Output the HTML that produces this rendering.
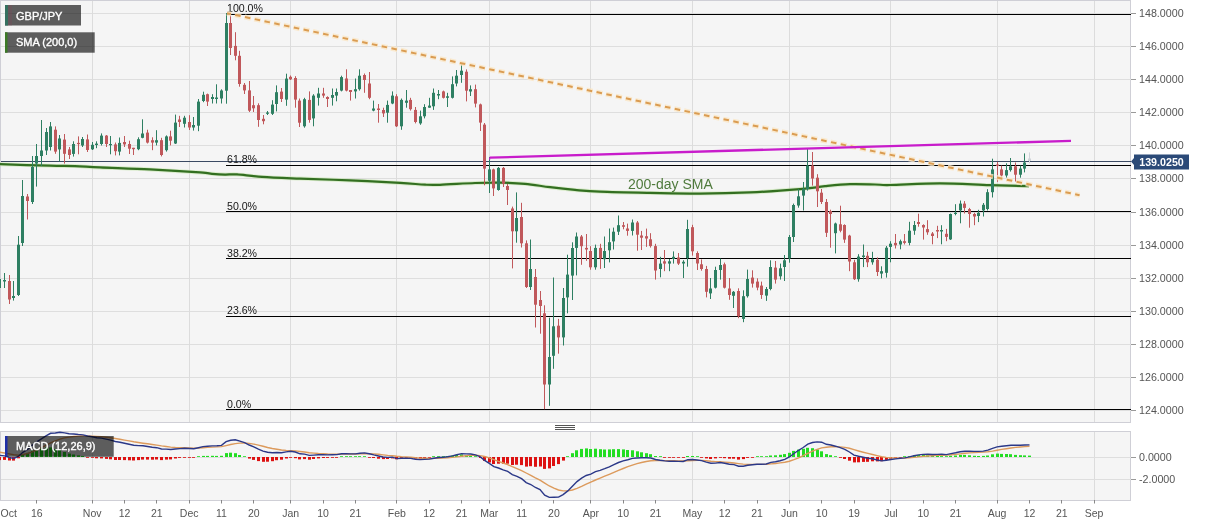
<!DOCTYPE html>
<html><head><meta charset="utf-8"><title>GBP/JPY</title><style>html,body{margin:0;padding:0;background:#fff;width:1207px;height:526px;overflow:hidden}
svg text{font-family:"Liberation Sans",Arial,sans-serif}
.ax{font-size:10.7px;fill:#555}
.xl{font-size:10.5px;fill:#555}
.fib{font-size:10.6px;fill:#151515}
.smal{font-size:14px;fill:#4f7a3c}
.tag{font-size:10.7px;font-weight:bold;fill:#fff}
.lg{font-size:11px;fill:#fff;stroke:#fff;stroke-width:0.35px}
</style></head>
<body>
<svg width="1207" height="526" viewBox="0 0 1207 526" style="display:block"><rect x="0" y="0" width="1207" height="526" fill="#ffffff"/><rect x="0.5" y="0.5" width="1130" height="422" fill="#f5f5f5" stroke="#cfcfd6" stroke-width="1"/><rect x="0.5" y="431.5" width="1130" height="69" fill="#f5f5f5" stroke="#cfcfd6" stroke-width="1"/><line x1="1" y1="410.5" x2="1131" y2="410.5" stroke="#dedede" stroke-width="1"/><line x1="1" y1="377.5" x2="1131" y2="377.5" stroke="#dedede" stroke-width="1"/><line x1="1" y1="344.5" x2="1131" y2="344.5" stroke="#dedede" stroke-width="1"/><line x1="1" y1="311.5" x2="1131" y2="311.5" stroke="#dedede" stroke-width="1"/><line x1="1" y1="278.5" x2="1131" y2="278.5" stroke="#dedede" stroke-width="1"/><line x1="1" y1="245.5" x2="1131" y2="245.5" stroke="#dedede" stroke-width="1"/><line x1="1" y1="212.5" x2="1131" y2="212.5" stroke="#dedede" stroke-width="1"/><line x1="1" y1="178.5" x2="1131" y2="178.5" stroke="#dedede" stroke-width="1"/><line x1="1" y1="145.5" x2="1131" y2="145.5" stroke="#dedede" stroke-width="1"/><line x1="1" y1="112.5" x2="1131" y2="112.5" stroke="#dedede" stroke-width="1"/><line x1="1" y1="79.5" x2="1131" y2="79.5" stroke="#dedede" stroke-width="1"/><line x1="1" y1="46.5" x2="1131" y2="46.5" stroke="#dedede" stroke-width="1"/><line x1="1" y1="13.5" x2="1131" y2="13.5" stroke="#dedede" stroke-width="1"/><line x1="92.5" y1="1" x2="92.5" y2="422" stroke="#dcdcdc" stroke-width="1"/><line x1="92.5" y1="432" x2="92.5" y2="500" stroke="#dcdcdc" stroke-width="1"/><line x1="189.5" y1="1" x2="189.5" y2="422" stroke="#dcdcdc" stroke-width="1"/><line x1="189.5" y1="432" x2="189.5" y2="500" stroke="#dcdcdc" stroke-width="1"/><line x1="290.5" y1="1" x2="290.5" y2="422" stroke="#dcdcdc" stroke-width="1"/><line x1="290.5" y1="432" x2="290.5" y2="500" stroke="#dcdcdc" stroke-width="1"/><line x1="396.5" y1="1" x2="396.5" y2="422" stroke="#dcdcdc" stroke-width="1"/><line x1="396.5" y1="432" x2="396.5" y2="500" stroke="#dcdcdc" stroke-width="1"/><line x1="489.5" y1="1" x2="489.5" y2="422" stroke="#dcdcdc" stroke-width="1"/><line x1="489.5" y1="432" x2="489.5" y2="500" stroke="#dcdcdc" stroke-width="1"/><line x1="590.5" y1="1" x2="590.5" y2="422" stroke="#dcdcdc" stroke-width="1"/><line x1="590.5" y1="432" x2="590.5" y2="500" stroke="#dcdcdc" stroke-width="1"/><line x1="692.5" y1="1" x2="692.5" y2="422" stroke="#dcdcdc" stroke-width="1"/><line x1="692.5" y1="432" x2="692.5" y2="500" stroke="#dcdcdc" stroke-width="1"/><line x1="789.5" y1="1" x2="789.5" y2="422" stroke="#dcdcdc" stroke-width="1"/><line x1="789.5" y1="432" x2="789.5" y2="500" stroke="#dcdcdc" stroke-width="1"/><line x1="890.5" y1="1" x2="890.5" y2="422" stroke="#dcdcdc" stroke-width="1"/><line x1="890.5" y1="432" x2="890.5" y2="500" stroke="#dcdcdc" stroke-width="1"/><line x1="997.5" y1="1" x2="997.5" y2="422" stroke="#dcdcdc" stroke-width="1"/><line x1="997.5" y1="432" x2="997.5" y2="500" stroke="#dcdcdc" stroke-width="1"/><line x1="1094.5" y1="1" x2="1094.5" y2="422" stroke="#dcdcdc" stroke-width="1"/><line x1="1094.5" y1="432" x2="1094.5" y2="500" stroke="#dcdcdc" stroke-width="1"/><line x1="1" y1="457.5" x2="1131" y2="457.5" stroke="#dedede" stroke-width="1"/><line x1="1" y1="479.5" x2="1131" y2="479.5" stroke="#dedede" stroke-width="1"/><line x1="1131" y1="410.5" x2="1136" y2="410.5" stroke="#999" stroke-width="1"/><text x="1139" y="414.3" class="ax">124.0000</text><line x1="1131" y1="377.5" x2="1136" y2="377.5" stroke="#999" stroke-width="1"/><text x="1139" y="381.3" class="ax">126.0000</text><line x1="1131" y1="344.5" x2="1136" y2="344.5" stroke="#999" stroke-width="1"/><text x="1139" y="348.3" class="ax">128.0000</text><line x1="1131" y1="311.5" x2="1136" y2="311.5" stroke="#999" stroke-width="1"/><text x="1139" y="315.3" class="ax">130.0000</text><line x1="1131" y1="278.5" x2="1136" y2="278.5" stroke="#999" stroke-width="1"/><text x="1139" y="282.3" class="ax">132.0000</text><line x1="1131" y1="245.5" x2="1136" y2="245.5" stroke="#999" stroke-width="1"/><text x="1139" y="249.3" class="ax">134.0000</text><line x1="1131" y1="212.5" x2="1136" y2="212.5" stroke="#999" stroke-width="1"/><text x="1139" y="216.3" class="ax">136.0000</text><line x1="1131" y1="178.5" x2="1136" y2="178.5" stroke="#999" stroke-width="1"/><text x="1139" y="182.3" class="ax">138.0000</text><line x1="1131" y1="145.5" x2="1136" y2="145.5" stroke="#999" stroke-width="1"/><text x="1139" y="149.3" class="ax">140.0000</text><line x1="1131" y1="112.5" x2="1136" y2="112.5" stroke="#999" stroke-width="1"/><text x="1139" y="116.3" class="ax">142.0000</text><line x1="1131" y1="79.5" x2="1136" y2="79.5" stroke="#999" stroke-width="1"/><text x="1139" y="83.3" class="ax">144.0000</text><line x1="1131" y1="46.5" x2="1136" y2="46.5" stroke="#999" stroke-width="1"/><text x="1139" y="50.3" class="ax">146.0000</text><line x1="1131" y1="13.5" x2="1136" y2="13.5" stroke="#999" stroke-width="1"/><text x="1139" y="17.3" class="ax">148.0000</text><line x1="1131" y1="457.5" x2="1136" y2="457.5" stroke="#999" stroke-width="1"/><text x="1139" y="461.3" class="ax">0.0000</text><line x1="1131" y1="479.5" x2="1136" y2="479.5" stroke="#999" stroke-width="1"/><text x="1139" y="483.3" class="ax">-2.0000</text><text x="0.5" y="517" class="xl">Oct</text><line x1="36.5" y1="500" x2="36.5" y2="503.5" stroke="#888" stroke-width="1"/><text x="36.8" y="517" class="xl" text-anchor="middle">16</text><line x1="92.5" y1="500" x2="92.5" y2="503.5" stroke="#888" stroke-width="1"/><text x="92.2" y="517" class="xl" text-anchor="middle">Nov</text><line x1="124.5" y1="500" x2="124.5" y2="503.5" stroke="#888" stroke-width="1"/><text x="124.5" y="517" class="xl" text-anchor="middle">12</text><line x1="156.5" y1="500" x2="156.5" y2="503.5" stroke="#888" stroke-width="1"/><text x="156.8" y="517" class="xl" text-anchor="middle">21</text><line x1="189.5" y1="500" x2="189.5" y2="503.5" stroke="#888" stroke-width="1"/><text x="189.2" y="517" class="xl" text-anchor="middle">Dec</text><line x1="221.5" y1="500" x2="221.5" y2="503.5" stroke="#888" stroke-width="1"/><text x="221.5" y="517" class="xl" text-anchor="middle">11</text><line x1="253.5" y1="500" x2="253.5" y2="503.5" stroke="#888" stroke-width="1"/><text x="253.8" y="517" class="xl" text-anchor="middle">20</text><line x1="290.5" y1="500" x2="290.5" y2="503.5" stroke="#888" stroke-width="1"/><text x="290.7" y="517" class="xl" text-anchor="middle">Jan</text><line x1="323.5" y1="500" x2="323.5" y2="503.5" stroke="#888" stroke-width="1"/><text x="323.1" y="517" class="xl" text-anchor="middle">10</text><line x1="355.5" y1="500" x2="355.5" y2="503.5" stroke="#888" stroke-width="1"/><text x="355.4" y="517" class="xl" text-anchor="middle">21</text><line x1="396.5" y1="500" x2="396.5" y2="503.5" stroke="#888" stroke-width="1"/><text x="396.9" y="517" class="xl" text-anchor="middle">Feb</text><line x1="429.5" y1="500" x2="429.5" y2="503.5" stroke="#888" stroke-width="1"/><text x="429.2" y="517" class="xl" text-anchor="middle">12</text><line x1="461.5" y1="500" x2="461.5" y2="503.5" stroke="#888" stroke-width="1"/><text x="461.6" y="517" class="xl" text-anchor="middle">21</text><line x1="489.5" y1="500" x2="489.5" y2="503.5" stroke="#888" stroke-width="1"/><text x="489.3" y="517" class="xl" text-anchor="middle">Mar</text><line x1="521.5" y1="500" x2="521.5" y2="503.5" stroke="#888" stroke-width="1"/><text x="521.6" y="517" class="xl" text-anchor="middle">11</text><line x1="553.5" y1="500" x2="553.5" y2="503.5" stroke="#888" stroke-width="1"/><text x="553.9" y="517" class="xl" text-anchor="middle">20</text><line x1="590.5" y1="500" x2="590.5" y2="503.5" stroke="#888" stroke-width="1"/><text x="590.8" y="517" class="xl" text-anchor="middle">Apr</text><line x1="623.5" y1="500" x2="623.5" y2="503.5" stroke="#888" stroke-width="1"/><text x="623.2" y="517" class="xl" text-anchor="middle">10</text><line x1="655.5" y1="500" x2="655.5" y2="503.5" stroke="#888" stroke-width="1"/><text x="655.5" y="517" class="xl" text-anchor="middle">21</text><line x1="692.5" y1="500" x2="692.5" y2="503.5" stroke="#888" stroke-width="1"/><text x="692.4" y="517" class="xl" text-anchor="middle">May</text><line x1="724.5" y1="500" x2="724.5" y2="503.5" stroke="#888" stroke-width="1"/><text x="724.7" y="517" class="xl" text-anchor="middle">12</text><line x1="757.5" y1="500" x2="757.5" y2="503.5" stroke="#888" stroke-width="1"/><text x="757.0" y="517" class="xl" text-anchor="middle">21</text><line x1="789.5" y1="500" x2="789.5" y2="503.5" stroke="#888" stroke-width="1"/><text x="789.4" y="517" class="xl" text-anchor="middle">Jun</text><line x1="821.5" y1="500" x2="821.5" y2="503.5" stroke="#888" stroke-width="1"/><text x="821.7" y="517" class="xl" text-anchor="middle">10</text><line x1="854.5" y1="500" x2="854.5" y2="503.5" stroke="#888" stroke-width="1"/><text x="854.0" y="517" class="xl" text-anchor="middle">19</text><line x1="890.5" y1="500" x2="890.5" y2="503.5" stroke="#888" stroke-width="1"/><text x="890.9" y="517" class="xl" text-anchor="middle">Jul</text><line x1="923.5" y1="500" x2="923.5" y2="503.5" stroke="#888" stroke-width="1"/><text x="923.3" y="517" class="xl" text-anchor="middle">10</text><line x1="955.5" y1="500" x2="955.5" y2="503.5" stroke="#888" stroke-width="1"/><text x="955.6" y="517" class="xl" text-anchor="middle">21</text><line x1="997.5" y1="500" x2="997.5" y2="503.5" stroke="#888" stroke-width="1"/><text x="997.1" y="517" class="xl" text-anchor="middle">Aug</text><line x1="1029.5" y1="500" x2="1029.5" y2="503.5" stroke="#888" stroke-width="1"/><text x="1029.5" y="517" class="xl" text-anchor="middle">12</text><line x1="1061.5" y1="500" x2="1061.5" y2="503.5" stroke="#888" stroke-width="1"/><text x="1061.8" y="517" class="xl" text-anchor="middle">21</text><line x1="1094.5" y1="500" x2="1094.5" y2="503.5" stroke="#888" stroke-width="1"/><text x="1094.1" y="517" class="xl" text-anchor="middle">Sep</text><line x1="1" y1="161.5" x2="1131" y2="161.5" stroke="#3b4a63" stroke-width="1"/><line x1="226" y1="14.5" x2="1131" y2="14.5" stroke="#000" stroke-width="1"/><text x="227" y="11.9" class="fib">100.0%</text><line x1="226" y1="165.5" x2="1131" y2="165.5" stroke="#000" stroke-width="1"/><text x="227" y="162.5" class="fib">61.8%</text><line x1="226" y1="211.5" x2="1131" y2="211.5" stroke="#000" stroke-width="1"/><text x="227" y="209.6" class="fib">50.0%</text><line x1="226" y1="258.5" x2="1131" y2="258.5" stroke="#000" stroke-width="1"/><text x="227" y="256.7" class="fib">38.2%</text><line x1="226" y1="316.5" x2="1131" y2="316.5" stroke="#000" stroke-width="1"/><text x="227" y="313.8" class="fib">23.6%</text><line x1="226" y1="409.5" x2="1131" y2="409.5" stroke="#000" stroke-width="1"/><text x="227" y="407.5" class="fib">0.0%</text><path d="M0,164.2 C8.3,164.45 37.5,165.38 50,165.7 C62.5,166.02 66.7,165.82 75,166.1 C83.3,166.38 87.5,166.85 100,167.4 C112.5,167.95 133.3,168.57 150,169.4 C166.7,170.23 189.7,171.67 200,172.4 C210.3,173.13 207.8,173.43 212,173.8 C216.2,174.17 220.8,174.50 225,174.6 C229.2,174.70 230.8,174.02 237,174.4 C243.2,174.78 251.5,176.20 262,176.9 C272.5,177.60 285.3,178.02 300,178.6 C314.7,179.18 333.3,179.68 350,180.4 C366.7,181.12 387.5,182.18 400,182.9 C412.5,183.62 418.3,184.38 425,184.7 C431.7,185.02 431.7,185.08 440,184.8 C448.3,184.52 465.0,183.37 475,183.0 C485.0,182.63 491.7,182.47 500,182.6 C508.3,182.73 516.7,183.03 525,183.8 C533.3,184.57 541.7,186.18 550,187.2 C558.3,188.22 566.7,189.15 575,189.9 C583.3,190.65 587.5,191.20 600,191.7 C612.5,192.20 633.3,192.58 650,192.9 C666.7,193.22 683.3,193.68 700,193.6 C716.7,193.52 733.3,193.15 750,192.4 C766.7,191.65 787.5,190.13 800,189.1 C812.5,188.07 816.7,187.02 825,186.2 C833.3,185.38 841.7,184.48 850,184.2 C858.3,183.92 868.3,184.37 875,184.5 C881.7,184.63 879.2,185.18 890,185.0 C900.8,184.82 923.3,183.37 940,183.4 C956.7,183.43 975.2,184.75 990,185.2 C1004.8,185.65 1022.5,185.95 1029,186.1" fill="none" stroke="#c8e6b0" stroke-width="4" stroke-linejoin="round" opacity="0.6"/><path d="M0,164.2 C8.3,164.45 37.5,165.38 50,165.7 C62.5,166.02 66.7,165.82 75,166.1 C83.3,166.38 87.5,166.85 100,167.4 C112.5,167.95 133.3,168.57 150,169.4 C166.7,170.23 189.7,171.67 200,172.4 C210.3,173.13 207.8,173.43 212,173.8 C216.2,174.17 220.8,174.50 225,174.6 C229.2,174.70 230.8,174.02 237,174.4 C243.2,174.78 251.5,176.20 262,176.9 C272.5,177.60 285.3,178.02 300,178.6 C314.7,179.18 333.3,179.68 350,180.4 C366.7,181.12 387.5,182.18 400,182.9 C412.5,183.62 418.3,184.38 425,184.7 C431.7,185.02 431.7,185.08 440,184.8 C448.3,184.52 465.0,183.37 475,183.0 C485.0,182.63 491.7,182.47 500,182.6 C508.3,182.73 516.7,183.03 525,183.8 C533.3,184.57 541.7,186.18 550,187.2 C558.3,188.22 566.7,189.15 575,189.9 C583.3,190.65 587.5,191.20 600,191.7 C612.5,192.20 633.3,192.58 650,192.9 C666.7,193.22 683.3,193.68 700,193.6 C716.7,193.52 733.3,193.15 750,192.4 C766.7,191.65 787.5,190.13 800,189.1 C812.5,188.07 816.7,187.02 825,186.2 C833.3,185.38 841.7,184.48 850,184.2 C858.3,183.92 868.3,184.37 875,184.5 C881.7,184.63 879.2,185.18 890,185.0 C900.8,184.82 923.3,183.37 940,183.4 C956.7,183.43 975.2,184.75 990,185.2 C1004.8,185.65 1022.5,185.95 1029,186.1" fill="none" stroke="#336f21" stroke-width="2.2" stroke-linejoin="round"/><text x="628" y="188.6" class="smal">200-day SMA</text><line x1="-0.5" y1="276.0" x2="-0.5" y2="290.0" stroke="#2e7f62" stroke-width="1"/><rect x="-2.0" y="279.0" width="3" height="9.0" fill="#2e7f62"/><line x1="4.5" y1="273.0" x2="4.5" y2="288.0" stroke="#2e7f62" stroke-width="1"/><rect x="3.0" y="280.0" width="3" height="1.5" fill="#2e7f62"/><line x1="9.5" y1="275.0" x2="9.5" y2="304.0" stroke="#c0585b" stroke-width="1"/><rect x="8.0" y="281.0" width="3" height="18.5" fill="#c0585b"/><line x1="13.5" y1="281.0" x2="13.5" y2="300.6" stroke="#2e7f62" stroke-width="1"/><rect x="12.0" y="296.0" width="3" height="2.0" fill="#2e7f62"/><line x1="18.5" y1="236.0" x2="18.5" y2="296.0" stroke="#2e7f62" stroke-width="1"/><rect x="17.0" y="244.7" width="3" height="50.3" fill="#2e7f62"/><line x1="22.5" y1="180.0" x2="22.5" y2="246.0" stroke="#2e7f62" stroke-width="1"/><rect x="21.0" y="196.0" width="3" height="47.0" fill="#2e7f62"/><line x1="27.5" y1="194.0" x2="27.5" y2="219.5" stroke="#c0585b" stroke-width="1"/><rect x="26.0" y="196.5" width="3" height="4.5" fill="#c0585b"/><line x1="32.5" y1="156.0" x2="32.5" y2="204.0" stroke="#2e7f62" stroke-width="1"/><rect x="31.0" y="167.0" width="3" height="35.0" fill="#2e7f62"/><line x1="36.5" y1="144.0" x2="36.5" y2="186.6" stroke="#2e7f62" stroke-width="1"/><rect x="35.0" y="156.0" width="3" height="7.6" fill="#2e7f62"/><line x1="41.5" y1="120.0" x2="41.5" y2="166.0" stroke="#2e7f62" stroke-width="1"/><rect x="40.0" y="150.5" width="3" height="5.5" fill="#2e7f62"/><line x1="46.5" y1="128.0" x2="46.5" y2="155.0" stroke="#2e7f62" stroke-width="1"/><rect x="45.0" y="132.0" width="3" height="18.5" fill="#2e7f62"/><line x1="50.5" y1="122.0" x2="50.5" y2="150.5" stroke="#2e7f62" stroke-width="1"/><rect x="49.0" y="126.4" width="3" height="20.6" fill="#2e7f62"/><line x1="55.5" y1="126.4" x2="55.5" y2="153.8" stroke="#c0585b" stroke-width="1"/><rect x="54.0" y="129.7" width="3" height="21.9" fill="#c0585b"/><line x1="59.5" y1="135.0" x2="59.5" y2="161.5" stroke="#2e7f62" stroke-width="1"/><rect x="58.0" y="138.5" width="3" height="10.9" fill="#2e7f62"/><line x1="64.5" y1="134.0" x2="64.5" y2="163.6" stroke="#c0585b" stroke-width="1"/><rect x="63.0" y="139.6" width="3" height="14.2" fill="#c0585b"/><line x1="69.5" y1="147.0" x2="69.5" y2="159.0" stroke="#c0585b" stroke-width="1"/><rect x="68.0" y="149.4" width="3" height="5.6" fill="#c0585b"/><line x1="73.5" y1="141.3" x2="73.5" y2="156.6" stroke="#2e7f62" stroke-width="1"/><rect x="72.0" y="144.0" width="3" height="9.9" fill="#2e7f62"/><line x1="78.5" y1="136.4" x2="78.5" y2="154.3" stroke="#c0585b" stroke-width="1"/><rect x="77.0" y="142.9" width="3" height="1.2" fill="#c0585b"/><line x1="82.5" y1="137.0" x2="82.5" y2="147.0" stroke="#2e7f62" stroke-width="1"/><rect x="81.0" y="139.0" width="3" height="6.5" fill="#2e7f62"/><line x1="87.5" y1="134.5" x2="87.5" y2="152.0" stroke="#c0585b" stroke-width="1"/><rect x="86.0" y="139.4" width="3" height="10.6" fill="#c0585b"/><line x1="92.5" y1="142.0" x2="92.5" y2="150.0" stroke="#2e7f62" stroke-width="1"/><rect x="91.0" y="144.8" width="3" height="4.5" fill="#2e7f62"/><line x1="96.5" y1="141.3" x2="96.5" y2="148.2" stroke="#2e7f62" stroke-width="1"/><rect x="95.0" y="143.6" width="3" height="1.4" fill="#2e7f62"/><line x1="101.5" y1="133.4" x2="101.5" y2="145.5" stroke="#2e7f62" stroke-width="1"/><rect x="100.0" y="135.6" width="3" height="8.4" fill="#2e7f62"/><line x1="106.5" y1="135.0" x2="106.5" y2="147.0" stroke="#c0585b" stroke-width="1"/><rect x="105.0" y="135.6" width="3" height="8.4" fill="#c0585b"/><line x1="110.5" y1="136.0" x2="110.5" y2="154.3" stroke="#2e7f62" stroke-width="1"/><rect x="109.0" y="144.0" width="3" height="1.2" fill="#2e7f62"/><line x1="115.5" y1="142.5" x2="115.5" y2="155.4" stroke="#c0585b" stroke-width="1"/><rect x="114.0" y="144.4" width="3" height="6.8" fill="#c0585b"/><line x1="119.5" y1="137.5" x2="119.5" y2="155.4" stroke="#2e7f62" stroke-width="1"/><rect x="118.0" y="142.9" width="3" height="8.7" fill="#2e7f62"/><line x1="124.5" y1="136.0" x2="124.5" y2="147.0" stroke="#c0585b" stroke-width="1"/><rect x="123.0" y="142.0" width="3" height="2.4" fill="#c0585b"/><line x1="129.5" y1="140.7" x2="129.5" y2="154.0" stroke="#c0585b" stroke-width="1"/><rect x="128.0" y="144.0" width="3" height="4.7" fill="#c0585b"/><line x1="133.5" y1="147.8" x2="133.5" y2="155.0" stroke="#c0585b" stroke-width="1"/><rect x="132.0" y="147.8" width="3" height="1.4" fill="#c0585b"/><line x1="138.5" y1="137.3" x2="138.5" y2="150.2" stroke="#2e7f62" stroke-width="1"/><rect x="137.0" y="139.2" width="3" height="10.0" fill="#2e7f62"/><line x1="142.5" y1="119.3" x2="142.5" y2="138.3" stroke="#2e7f62" stroke-width="1"/><rect x="141.0" y="133.5" width="3" height="4.3" fill="#2e7f62"/><line x1="147.5" y1="129.7" x2="147.5" y2="143.5" stroke="#c0585b" stroke-width="1"/><rect x="146.0" y="132.6" width="3" height="10.0" fill="#c0585b"/><line x1="152.5" y1="137.3" x2="152.5" y2="150.2" stroke="#c0585b" stroke-width="1"/><rect x="151.0" y="140.2" width="3" height="2.4" fill="#c0585b"/><line x1="156.5" y1="130.2" x2="156.5" y2="145.4" stroke="#2e7f62" stroke-width="1"/><rect x="155.0" y="140.2" width="3" height="2.4" fill="#2e7f62"/><line x1="161.5" y1="137.8" x2="161.5" y2="156.4" stroke="#c0585b" stroke-width="1"/><rect x="160.0" y="140.2" width="3" height="14.8" fill="#c0585b"/><line x1="166.5" y1="135.4" x2="166.5" y2="151.6" stroke="#2e7f62" stroke-width="1"/><rect x="165.0" y="136.4" width="3" height="13.8" fill="#2e7f62"/><line x1="170.5" y1="130.7" x2="170.5" y2="145.4" stroke="#c0585b" stroke-width="1"/><rect x="169.0" y="136.4" width="3" height="4.3" fill="#c0585b"/><line x1="175.5" y1="114.6" x2="175.5" y2="144.0" stroke="#2e7f62" stroke-width="1"/><rect x="174.0" y="122.6" width="3" height="20.9" fill="#2e7f62"/><line x1="179.5" y1="115.8" x2="179.5" y2="127.0" stroke="#c0585b" stroke-width="1"/><rect x="178.0" y="119.5" width="3" height="2.5" fill="#c0585b"/><line x1="184.5" y1="115.8" x2="184.5" y2="127.5" stroke="#2e7f62" stroke-width="1"/><rect x="183.0" y="117.7" width="3" height="6.1" fill="#2e7f62"/><line x1="189.5" y1="115.2" x2="189.5" y2="130.0" stroke="#c0585b" stroke-width="1"/><rect x="188.0" y="122.0" width="3" height="5.5" fill="#c0585b"/><line x1="193.5" y1="117.0" x2="193.5" y2="130.6" stroke="#2e7f62" stroke-width="1"/><rect x="192.0" y="125.0" width="3" height="2.5" fill="#2e7f62"/><line x1="198.5" y1="99.0" x2="198.5" y2="131.2" stroke="#2e7f62" stroke-width="1"/><rect x="197.0" y="101.6" width="3" height="24.1" fill="#2e7f62"/><line x1="203.5" y1="91.7" x2="203.5" y2="102.2" stroke="#2e7f62" stroke-width="1"/><rect x="202.0" y="94.8" width="3" height="6.2" fill="#2e7f62"/><line x1="207.5" y1="93.6" x2="207.5" y2="106.0" stroke="#c0585b" stroke-width="1"/><rect x="206.0" y="94.2" width="3" height="7.4" fill="#c0585b"/><line x1="212.5" y1="94.2" x2="212.5" y2="103.5" stroke="#2e7f62" stroke-width="1"/><rect x="211.0" y="97.0" width="3" height="2.0" fill="#2e7f62"/><line x1="216.5" y1="84.3" x2="216.5" y2="103.5" stroke="#2e7f62" stroke-width="1"/><rect x="215.0" y="97.5" width="3" height="1.5" fill="#2e7f62"/><line x1="221.5" y1="89.3" x2="221.5" y2="103.5" stroke="#2e7f62" stroke-width="1"/><rect x="220.0" y="90.5" width="3" height="8.0" fill="#2e7f62"/><line x1="226.5" y1="13.0" x2="226.5" y2="103.7" stroke="#2e7f62" stroke-width="1"/><rect x="225.0" y="23.0" width="3" height="67.7" fill="#2e7f62"/><line x1="230.5" y1="14.0" x2="230.5" y2="55.0" stroke="#c0585b" stroke-width="1"/><rect x="229.0" y="23.0" width="3" height="25.0" fill="#c0585b"/><line x1="235.5" y1="32.2" x2="235.5" y2="60.3" stroke="#c0585b" stroke-width="1"/><rect x="234.0" y="45.9" width="3" height="9.9" fill="#c0585b"/><line x1="239.5" y1="50.8" x2="239.5" y2="86.7" stroke="#c0585b" stroke-width="1"/><rect x="238.0" y="55.8" width="3" height="28.2" fill="#c0585b"/><line x1="244.5" y1="83.0" x2="244.5" y2="94.0" stroke="#c0585b" stroke-width="1"/><rect x="243.0" y="84.8" width="3" height="5.6" fill="#c0585b"/><line x1="249.5" y1="81.0" x2="249.5" y2="112.0" stroke="#c0585b" stroke-width="1"/><rect x="248.0" y="90.4" width="3" height="20.3" fill="#c0585b"/><line x1="253.5" y1="96.0" x2="253.5" y2="112.0" stroke="#c0585b" stroke-width="1"/><rect x="252.0" y="105.2" width="3" height="3.1" fill="#c0585b"/><line x1="258.5" y1="103.3" x2="258.5" y2="126.8" stroke="#c0585b" stroke-width="1"/><rect x="257.0" y="105.2" width="3" height="14.8" fill="#c0585b"/><line x1="263.5" y1="115.0" x2="263.5" y2="124.3" stroke="#c0585b" stroke-width="1"/><rect x="262.0" y="118.8" width="3" height="2.4" fill="#c0585b"/><line x1="267.5" y1="111.0" x2="267.5" y2="115.0" stroke="#2e7f62" stroke-width="1"/><rect x="266.0" y="112.5" width="3" height="1.3" fill="#2e7f62"/><line x1="272.5" y1="100.2" x2="272.5" y2="115.0" stroke="#2e7f62" stroke-width="1"/><rect x="271.0" y="104.6" width="3" height="9.2" fill="#2e7f62"/><line x1="276.5" y1="85.4" x2="276.5" y2="111.4" stroke="#2e7f62" stroke-width="1"/><rect x="275.0" y="92.2" width="3" height="11.8" fill="#2e7f62"/><line x1="281.5" y1="88.0" x2="281.5" y2="102.0" stroke="#c0585b" stroke-width="1"/><rect x="280.0" y="91.6" width="3" height="7.4" fill="#c0585b"/><line x1="286.5" y1="73.7" x2="286.5" y2="105.8" stroke="#2e7f62" stroke-width="1"/><rect x="285.0" y="78.6" width="3" height="21.0" fill="#2e7f62"/><line x1="290.5" y1="75.5" x2="290.5" y2="80.0" stroke="#c0585b" stroke-width="1"/><rect x="289.0" y="76.8" width="3" height="2.5" fill="#c0585b"/><line x1="295.5" y1="76.2" x2="295.5" y2="107.7" stroke="#c0585b" stroke-width="1"/><rect x="294.0" y="78.0" width="3" height="21.6" fill="#c0585b"/><line x1="299.5" y1="98.5" x2="299.5" y2="127.0" stroke="#c0585b" stroke-width="1"/><rect x="298.0" y="100.6" width="3" height="22.1" fill="#c0585b"/><line x1="304.5" y1="97.8" x2="304.5" y2="127.7" stroke="#2e7f62" stroke-width="1"/><rect x="303.0" y="99.2" width="3" height="27.1" fill="#2e7f62"/><line x1="309.5" y1="91.4" x2="309.5" y2="122.7" stroke="#c0585b" stroke-width="1"/><rect x="308.0" y="99.9" width="3" height="20.0" fill="#c0585b"/><line x1="313.5" y1="94.2" x2="313.5" y2="126.3" stroke="#2e7f62" stroke-width="1"/><rect x="312.0" y="95.6" width="3" height="22.8" fill="#2e7f62"/><line x1="318.5" y1="87.8" x2="318.5" y2="105.6" stroke="#2e7f62" stroke-width="1"/><rect x="317.0" y="93.5" width="3" height="4.3" fill="#2e7f62"/><line x1="323.5" y1="87.8" x2="323.5" y2="97.8" stroke="#c0585b" stroke-width="1"/><rect x="322.0" y="93.5" width="3" height="2.1" fill="#c0585b"/><line x1="327.5" y1="96.3" x2="327.5" y2="107.0" stroke="#c0585b" stroke-width="1"/><rect x="326.0" y="97.0" width="3" height="2.0" fill="#c0585b"/><line x1="332.5" y1="88.5" x2="332.5" y2="105.6" stroke="#2e7f62" stroke-width="1"/><rect x="331.0" y="95.0" width="3" height="2.8" fill="#2e7f62"/><line x1="336.5" y1="88.5" x2="336.5" y2="101.3" stroke="#2e7f62" stroke-width="1"/><rect x="335.0" y="92.0" width="3" height="3.6" fill="#2e7f62"/><line x1="341.5" y1="75.7" x2="341.5" y2="91.4" stroke="#2e7f62" stroke-width="1"/><rect x="340.0" y="77.1" width="3" height="13.5" fill="#2e7f62"/><line x1="346.5" y1="69.3" x2="346.5" y2="91.4" stroke="#c0585b" stroke-width="1"/><rect x="345.0" y="78.5" width="3" height="12.1" fill="#c0585b"/><line x1="350.5" y1="90.0" x2="350.5" y2="100.6" stroke="#c0585b" stroke-width="1"/><rect x="349.0" y="90.0" width="3" height="2.0" fill="#c0585b"/><line x1="355.5" y1="78.5" x2="355.5" y2="98.5" stroke="#2e7f62" stroke-width="1"/><rect x="354.0" y="89.2" width="3" height="2.2" fill="#2e7f62"/><line x1="359.5" y1="69.3" x2="359.5" y2="90.6" stroke="#2e7f62" stroke-width="1"/><rect x="358.0" y="75.7" width="3" height="13.5" fill="#2e7f62"/><line x1="364.5" y1="73.5" x2="364.5" y2="92.8" stroke="#c0585b" stroke-width="1"/><rect x="363.0" y="75.0" width="3" height="5.0" fill="#c0585b"/><line x1="369.5" y1="72.0" x2="369.5" y2="99.2" stroke="#c0585b" stroke-width="1"/><rect x="368.0" y="83.5" width="3" height="14.3" fill="#c0585b"/><line x1="373.5" y1="100.6" x2="373.5" y2="111.3" stroke="#2e7f62" stroke-width="1"/><rect x="372.0" y="108.5" width="3" height="2.1" fill="#2e7f62"/><line x1="378.5" y1="104.0" x2="378.5" y2="122.7" stroke="#c0585b" stroke-width="1"/><rect x="377.0" y="108.5" width="3" height="1.5" fill="#c0585b"/><line x1="383.5" y1="107.7" x2="383.5" y2="117.0" stroke="#c0585b" stroke-width="1"/><rect x="382.0" y="110.0" width="3" height="3.4" fill="#c0585b"/><line x1="387.5" y1="100.6" x2="387.5" y2="122.7" stroke="#2e7f62" stroke-width="1"/><rect x="386.0" y="104.9" width="3" height="7.8" fill="#2e7f62"/><line x1="392.5" y1="91.4" x2="392.5" y2="104.2" stroke="#2e7f62" stroke-width="1"/><rect x="391.0" y="95.6" width="3" height="7.9" fill="#2e7f62"/><line x1="396.5" y1="94.2" x2="396.5" y2="127.0" stroke="#c0585b" stroke-width="1"/><rect x="395.0" y="96.3" width="3" height="30.0" fill="#c0585b"/><line x1="401.5" y1="98.5" x2="401.5" y2="129.8" stroke="#2e7f62" stroke-width="1"/><rect x="400.0" y="99.9" width="3" height="26.4" fill="#2e7f62"/><line x1="406.5" y1="90.0" x2="406.5" y2="107.7" stroke="#2e7f62" stroke-width="1"/><rect x="405.0" y="100.6" width="3" height="2.2" fill="#2e7f62"/><line x1="410.5" y1="97.8" x2="410.5" y2="110.6" stroke="#c0585b" stroke-width="1"/><rect x="409.0" y="99.9" width="3" height="9.3" fill="#c0585b"/><line x1="415.5" y1="107.0" x2="415.5" y2="123.4" stroke="#c0585b" stroke-width="1"/><rect x="414.0" y="109.9" width="3" height="12.1" fill="#c0585b"/><line x1="420.5" y1="110.6" x2="420.5" y2="124.8" stroke="#2e7f62" stroke-width="1"/><rect x="419.0" y="116.3" width="3" height="7.1" fill="#2e7f62"/><line x1="424.5" y1="104.2" x2="424.5" y2="118.4" stroke="#2e7f62" stroke-width="1"/><rect x="423.0" y="107.0" width="3" height="9.3" fill="#2e7f62"/><line x1="429.5" y1="97.8" x2="429.5" y2="107.7" stroke="#2e7f62" stroke-width="1"/><rect x="428.0" y="105.6" width="3" height="2.1" fill="#2e7f62"/><line x1="433.5" y1="88.5" x2="433.5" y2="109.9" stroke="#2e7f62" stroke-width="1"/><rect x="432.0" y="92.8" width="3" height="13.5" fill="#2e7f62"/><line x1="438.5" y1="90.0" x2="438.5" y2="99.2" stroke="#2e7f62" stroke-width="1"/><rect x="437.0" y="94.0" width="3" height="1.5" fill="#2e7f62"/><line x1="443.5" y1="90.6" x2="443.5" y2="98.5" stroke="#c0585b" stroke-width="1"/><rect x="442.0" y="91.4" width="3" height="6.4" fill="#c0585b"/><line x1="447.5" y1="92.8" x2="447.5" y2="107.0" stroke="#2e7f62" stroke-width="1"/><rect x="446.0" y="96.3" width="3" height="1.5" fill="#2e7f62"/><line x1="452.5" y1="76.4" x2="452.5" y2="98.5" stroke="#2e7f62" stroke-width="1"/><rect x="451.0" y="84.2" width="3" height="13.6" fill="#2e7f62"/><line x1="456.5" y1="70.0" x2="456.5" y2="86.4" stroke="#2e7f62" stroke-width="1"/><rect x="455.0" y="75.7" width="3" height="7.8" fill="#2e7f62"/><line x1="461.5" y1="64.3" x2="461.5" y2="82.8" stroke="#2e7f62" stroke-width="1"/><rect x="460.0" y="70.7" width="3" height="4.3" fill="#2e7f62"/><line x1="466.5" y1="69.4" x2="466.5" y2="101.4" stroke="#c0585b" stroke-width="1"/><rect x="465.0" y="71.7" width="3" height="19.0" fill="#c0585b"/><line x1="470.5" y1="85.4" x2="470.5" y2="96.0" stroke="#2e7f62" stroke-width="1"/><rect x="469.0" y="89.2" width="3" height="2.3" fill="#2e7f62"/><line x1="475.5" y1="84.6" x2="475.5" y2="107.4" stroke="#c0585b" stroke-width="1"/><rect x="474.0" y="89.2" width="3" height="14.4" fill="#c0585b"/><line x1="480.5" y1="103.6" x2="480.5" y2="131.0" stroke="#c0585b" stroke-width="1"/><rect x="479.0" y="104.4" width="3" height="18.2" fill="#c0585b"/><line x1="484.5" y1="123.0" x2="484.5" y2="185.3" stroke="#c0585b" stroke-width="1"/><rect x="483.0" y="124.6" width="3" height="44.0" fill="#c0585b"/><line x1="489.5" y1="157.0" x2="489.5" y2="193.0" stroke="#2e7f62" stroke-width="1"/><rect x="488.0" y="169.4" width="3" height="11.4" fill="#2e7f62"/><line x1="493.5" y1="168.6" x2="493.5" y2="196.0" stroke="#c0585b" stroke-width="1"/><rect x="492.0" y="169.4" width="3" height="19.0" fill="#c0585b"/><line x1="498.5" y1="167.0" x2="498.5" y2="190.7" stroke="#2e7f62" stroke-width="1"/><rect x="497.0" y="167.9" width="3" height="22.1" fill="#2e7f62"/><line x1="503.5" y1="167.0" x2="503.5" y2="187.0" stroke="#c0585b" stroke-width="1"/><rect x="502.0" y="167.9" width="3" height="15.9" fill="#c0585b"/><line x1="507.5" y1="184.0" x2="507.5" y2="205.0" stroke="#c0585b" stroke-width="1"/><rect x="506.0" y="186.0" width="3" height="4.0" fill="#c0585b"/><line x1="512.5" y1="206.6" x2="512.5" y2="268.4" stroke="#c0585b" stroke-width="1"/><rect x="511.0" y="208.5" width="3" height="22.8" fill="#c0585b"/><line x1="516.5" y1="192.4" x2="516.5" y2="242.7" stroke="#2e7f62" stroke-width="1"/><rect x="515.0" y="218.0" width="3" height="13.3" fill="#2e7f62"/><line x1="521.5" y1="202.8" x2="521.5" y2="247.5" stroke="#c0585b" stroke-width="1"/><rect x="520.0" y="217.0" width="3" height="26.3" fill="#c0585b"/><line x1="526.5" y1="240.4" x2="526.5" y2="288.0" stroke="#c0585b" stroke-width="1"/><rect x="525.0" y="243.3" width="3" height="43.7" fill="#c0585b"/><line x1="530.5" y1="239.5" x2="530.5" y2="290.0" stroke="#2e7f62" stroke-width="1"/><rect x="529.0" y="269.0" width="3" height="18.0" fill="#2e7f62"/><line x1="535.5" y1="269.0" x2="535.5" y2="327.5" stroke="#c0585b" stroke-width="1"/><rect x="534.0" y="277.0" width="3" height="27.7" fill="#c0585b"/><line x1="540.5" y1="291.0" x2="540.5" y2="333.7" stroke="#c0585b" stroke-width="1"/><rect x="539.0" y="300.0" width="3" height="6.0" fill="#c0585b"/><line x1="544.5" y1="305.3" x2="544.5" y2="409.2" stroke="#c0585b" stroke-width="1"/><rect x="543.0" y="313.3" width="3" height="71.2" fill="#c0585b"/><line x1="549.5" y1="317.7" x2="549.5" y2="405.8" stroke="#2e7f62" stroke-width="1"/><rect x="548.0" y="357.0" width="3" height="27.5" fill="#2e7f62"/><line x1="553.5" y1="277.5" x2="553.5" y2="368.8" stroke="#2e7f62" stroke-width="1"/><rect x="552.0" y="326.3" width="3" height="29.5" fill="#2e7f62"/><line x1="558.5" y1="318.9" x2="558.5" y2="353.7" stroke="#c0585b" stroke-width="1"/><rect x="557.0" y="325.7" width="3" height="11.7" fill="#c0585b"/><line x1="563.5" y1="288.0" x2="563.5" y2="345.5" stroke="#2e7f62" stroke-width="1"/><rect x="562.0" y="298.0" width="3" height="39.4" fill="#2e7f62"/><line x1="567.5" y1="254.7" x2="567.5" y2="313.3" stroke="#2e7f62" stroke-width="1"/><rect x="566.0" y="274.6" width="3" height="22.8" fill="#2e7f62"/><line x1="572.5" y1="242.3" x2="572.5" y2="300.0" stroke="#2e7f62" stroke-width="1"/><rect x="571.0" y="248.0" width="3" height="27.6" fill="#2e7f62"/><line x1="576.5" y1="232.5" x2="576.5" y2="275.4" stroke="#2e7f62" stroke-width="1"/><rect x="575.0" y="236.5" width="3" height="11.4" fill="#2e7f62"/><line x1="581.5" y1="235.0" x2="581.5" y2="264.8" stroke="#c0585b" stroke-width="1"/><rect x="580.0" y="236.5" width="3" height="9.7" fill="#c0585b"/><line x1="586.5" y1="234.0" x2="586.5" y2="260.8" stroke="#c0585b" stroke-width="1"/><rect x="585.0" y="247.9" width="3" height="1.6" fill="#c0585b"/><line x1="590.5" y1="246.2" x2="590.5" y2="269.7" stroke="#c0585b" stroke-width="1"/><rect x="589.0" y="251.0" width="3" height="16.3" fill="#c0585b"/><line x1="595.5" y1="244.6" x2="595.5" y2="269.7" stroke="#2e7f62" stroke-width="1"/><rect x="594.0" y="247.9" width="3" height="19.4" fill="#2e7f62"/><line x1="600.5" y1="243.8" x2="600.5" y2="268.9" stroke="#c0585b" stroke-width="1"/><rect x="599.0" y="247.9" width="3" height="10.5" fill="#c0585b"/><line x1="604.5" y1="236.5" x2="604.5" y2="268.0" stroke="#2e7f62" stroke-width="1"/><rect x="603.0" y="251.0" width="3" height="8.2" fill="#2e7f62"/><line x1="609.5" y1="228.5" x2="609.5" y2="262.4" stroke="#2e7f62" stroke-width="1"/><rect x="608.0" y="242.2" width="3" height="8.1" fill="#2e7f62"/><line x1="613.5" y1="227.6" x2="613.5" y2="249.5" stroke="#2e7f62" stroke-width="1"/><rect x="612.0" y="231.7" width="3" height="9.7" fill="#2e7f62"/><line x1="618.5" y1="215.5" x2="618.5" y2="235.0" stroke="#2e7f62" stroke-width="1"/><rect x="617.0" y="225.2" width="3" height="6.5" fill="#2e7f62"/><line x1="623.5" y1="222.0" x2="623.5" y2="229.3" stroke="#c0585b" stroke-width="1"/><rect x="622.0" y="225.2" width="3" height="1.6" fill="#c0585b"/><line x1="627.5" y1="223.6" x2="627.5" y2="235.7" stroke="#c0585b" stroke-width="1"/><rect x="626.0" y="228.5" width="3" height="2.4" fill="#c0585b"/><line x1="632.5" y1="219.5" x2="632.5" y2="235.5" stroke="#2e7f62" stroke-width="1"/><rect x="631.0" y="222.5" width="3" height="8.4" fill="#2e7f62"/><line x1="637.5" y1="221.0" x2="637.5" y2="250.7" stroke="#c0585b" stroke-width="1"/><rect x="636.0" y="222.5" width="3" height="12.2" fill="#c0585b"/><line x1="641.5" y1="230.9" x2="641.5" y2="250.0" stroke="#c0585b" stroke-width="1"/><rect x="640.0" y="235.5" width="3" height="2.2" fill="#c0585b"/><line x1="646.5" y1="228.6" x2="646.5" y2="246.9" stroke="#c0585b" stroke-width="1"/><rect x="645.0" y="236.2" width="3" height="2.3" fill="#c0585b"/><line x1="650.5" y1="233.2" x2="650.5" y2="247.6" stroke="#c0585b" stroke-width="1"/><rect x="649.0" y="239.3" width="3" height="6.8" fill="#c0585b"/><line x1="655.5" y1="243.8" x2="655.5" y2="279.6" stroke="#c0585b" stroke-width="1"/><rect x="654.0" y="246.1" width="3" height="24.4" fill="#c0585b"/><line x1="660.5" y1="256.8" x2="660.5" y2="277.3" stroke="#2e7f62" stroke-width="1"/><rect x="659.0" y="263.6" width="3" height="5.4" fill="#2e7f62"/><line x1="664.5" y1="250.0" x2="664.5" y2="271.2" stroke="#c0585b" stroke-width="1"/><rect x="663.0" y="261.3" width="3" height="2.3" fill="#c0585b"/><line x1="669.5" y1="259.0" x2="669.5" y2="271.2" stroke="#2e7f62" stroke-width="1"/><rect x="668.0" y="261.3" width="3" height="2.3" fill="#2e7f62"/><line x1="673.5" y1="251.4" x2="673.5" y2="263.6" stroke="#2e7f62" stroke-width="1"/><rect x="672.0" y="256.8" width="3" height="2.2" fill="#2e7f62"/><line x1="678.5" y1="253.0" x2="678.5" y2="265.0" stroke="#c0585b" stroke-width="1"/><rect x="677.0" y="257.5" width="3" height="6.1" fill="#c0585b"/><line x1="683.5" y1="260.2" x2="683.5" y2="278.0" stroke="#2e7f62" stroke-width="1"/><rect x="682.0" y="261.8" width="3" height="1.7" fill="#2e7f62"/><line x1="687.5" y1="219.8" x2="687.5" y2="266.7" stroke="#2e7f62" stroke-width="1"/><rect x="686.0" y="229.0" width="3" height="29.0" fill="#2e7f62"/><line x1="692.5" y1="224.8" x2="692.5" y2="255.6" stroke="#c0585b" stroke-width="1"/><rect x="691.0" y="227.2" width="3" height="24.1" fill="#c0585b"/><line x1="697.5" y1="251.3" x2="697.5" y2="270.0" stroke="#c0585b" stroke-width="1"/><rect x="696.0" y="253.0" width="3" height="10.5" fill="#c0585b"/><line x1="701.5" y1="259.4" x2="701.5" y2="270.7" stroke="#c0585b" stroke-width="1"/><rect x="700.0" y="264.3" width="3" height="4.7" fill="#c0585b"/><line x1="706.5" y1="265.9" x2="706.5" y2="297.4" stroke="#c0585b" stroke-width="1"/><rect x="705.0" y="269.0" width="3" height="22.8" fill="#c0585b"/><line x1="710.5" y1="278.0" x2="710.5" y2="299.0" stroke="#2e7f62" stroke-width="1"/><rect x="709.0" y="288.5" width="3" height="4.9" fill="#2e7f62"/><line x1="715.5" y1="266.7" x2="715.5" y2="288.5" stroke="#2e7f62" stroke-width="1"/><rect x="714.0" y="270.0" width="3" height="17.7" fill="#2e7f62"/><line x1="720.5" y1="258.6" x2="720.5" y2="279.6" stroke="#2e7f62" stroke-width="1"/><rect x="719.0" y="265.0" width="3" height="5.0" fill="#2e7f62"/><line x1="724.5" y1="262.6" x2="724.5" y2="288.5" stroke="#c0585b" stroke-width="1"/><rect x="723.0" y="264.3" width="3" height="23.4" fill="#c0585b"/><line x1="729.5" y1="278.0" x2="729.5" y2="299.8" stroke="#c0585b" stroke-width="1"/><rect x="728.0" y="288.5" width="3" height="6.5" fill="#c0585b"/><line x1="733.5" y1="291.0" x2="733.5" y2="308.0" stroke="#2e7f62" stroke-width="1"/><rect x="732.0" y="291.8" width="3" height="4.0" fill="#2e7f62"/><line x1="738.5" y1="288.3" x2="738.5" y2="318.2" stroke="#c0585b" stroke-width="1"/><rect x="737.0" y="291.0" width="3" height="25.2" fill="#c0585b"/><line x1="743.5" y1="290.3" x2="743.5" y2="322.2" stroke="#2e7f62" stroke-width="1"/><rect x="742.0" y="296.2" width="3" height="22.7" fill="#2e7f62"/><line x1="747.5" y1="269.6" x2="747.5" y2="297.6" stroke="#2e7f62" stroke-width="1"/><rect x="746.0" y="279.0" width="3" height="17.2" fill="#2e7f62"/><line x1="752.5" y1="270.3" x2="752.5" y2="287.6" stroke="#c0585b" stroke-width="1"/><rect x="751.0" y="277.6" width="3" height="6.0" fill="#c0585b"/><line x1="757.5" y1="278.3" x2="757.5" y2="290.3" stroke="#c0585b" stroke-width="1"/><rect x="756.0" y="281.6" width="3" height="6.0" fill="#c0585b"/><line x1="761.5" y1="281.6" x2="761.5" y2="298.9" stroke="#c0585b" stroke-width="1"/><rect x="760.0" y="285.6" width="3" height="9.4" fill="#c0585b"/><line x1="766.5" y1="287.0" x2="766.5" y2="300.9" stroke="#2e7f62" stroke-width="1"/><rect x="765.0" y="289.0" width="3" height="6.6" fill="#2e7f62"/><line x1="770.5" y1="260.3" x2="770.5" y2="290.3" stroke="#2e7f62" stroke-width="1"/><rect x="769.0" y="267.0" width="3" height="22.0" fill="#2e7f62"/><line x1="775.5" y1="261.0" x2="775.5" y2="283.6" stroke="#c0585b" stroke-width="1"/><rect x="774.0" y="267.6" width="3" height="12.0" fill="#c0585b"/><line x1="780.5" y1="263.6" x2="780.5" y2="279.6" stroke="#2e7f62" stroke-width="1"/><rect x="779.0" y="268.3" width="3" height="8.0" fill="#2e7f62"/><line x1="784.5" y1="255.0" x2="784.5" y2="281.0" stroke="#2e7f62" stroke-width="1"/><rect x="783.0" y="260.3" width="3" height="6.7" fill="#2e7f62"/><line x1="789.5" y1="235.0" x2="789.5" y2="262.7" stroke="#2e7f62" stroke-width="1"/><rect x="788.0" y="237.0" width="3" height="21.4" fill="#2e7f62"/><line x1="793.5" y1="203.6" x2="793.5" y2="242.0" stroke="#2e7f62" stroke-width="1"/><rect x="792.0" y="205.0" width="3" height="32.0" fill="#2e7f62"/><line x1="798.5" y1="189.0" x2="798.5" y2="207.7" stroke="#2e7f62" stroke-width="1"/><rect x="797.0" y="196.3" width="3" height="9.2" fill="#2e7f62"/><line x1="803.5" y1="182.0" x2="803.5" y2="210.5" stroke="#2e7f62" stroke-width="1"/><rect x="802.0" y="189.0" width="3" height="6.6" fill="#2e7f62"/><line x1="807.5" y1="148.5" x2="807.5" y2="190.6" stroke="#2e7f62" stroke-width="1"/><rect x="806.0" y="165.6" width="3" height="23.4" fill="#2e7f62"/><line x1="812.5" y1="152.0" x2="812.5" y2="185.6" stroke="#c0585b" stroke-width="1"/><rect x="811.0" y="165.6" width="3" height="12.9" fill="#c0585b"/><line x1="817.5" y1="174.2" x2="817.5" y2="207.0" stroke="#c0585b" stroke-width="1"/><rect x="816.0" y="177.7" width="3" height="13.6" fill="#c0585b"/><line x1="821.5" y1="189.0" x2="821.5" y2="204.0" stroke="#c0585b" stroke-width="1"/><rect x="820.0" y="192.7" width="3" height="9.3" fill="#c0585b"/><line x1="826.5" y1="199.0" x2="826.5" y2="237.0" stroke="#c0585b" stroke-width="1"/><rect x="825.0" y="202.0" width="3" height="30.8" fill="#c0585b"/><line x1="830.5" y1="209.7" x2="830.5" y2="247.7" stroke="#c0585b" stroke-width="1"/><rect x="829.0" y="211.0" width="3" height="3.0" fill="#c0585b"/><line x1="835.5" y1="222.6" x2="835.5" y2="253.4" stroke="#2e7f62" stroke-width="1"/><rect x="834.0" y="223.5" width="3" height="9.7" fill="#2e7f62"/><line x1="840.5" y1="205.7" x2="840.5" y2="232.3" stroke="#c0585b" stroke-width="1"/><rect x="839.0" y="224.3" width="3" height="6.4" fill="#c0585b"/><line x1="844.5" y1="224.3" x2="844.5" y2="242.9" stroke="#c0585b" stroke-width="1"/><rect x="843.0" y="225.0" width="3" height="14.6" fill="#c0585b"/><line x1="849.5" y1="234.8" x2="849.5" y2="271.2" stroke="#c0585b" stroke-width="1"/><rect x="848.0" y="235.6" width="3" height="25.9" fill="#c0585b"/><line x1="854.5" y1="259.8" x2="854.5" y2="280.0" stroke="#c0585b" stroke-width="1"/><rect x="853.0" y="262.3" width="3" height="16.9" fill="#c0585b"/><line x1="858.5" y1="254.2" x2="858.5" y2="281.7" stroke="#2e7f62" stroke-width="1"/><rect x="857.0" y="256.6" width="3" height="22.6" fill="#2e7f62"/><line x1="863.5" y1="244.5" x2="863.5" y2="267.1" stroke="#2e7f62" stroke-width="1"/><rect x="862.0" y="255.5" width="3" height="1.5" fill="#2e7f62"/><line x1="867.5" y1="251.8" x2="867.5" y2="267.1" stroke="#c0585b" stroke-width="1"/><rect x="866.0" y="255.8" width="3" height="6.5" fill="#c0585b"/><line x1="872.5" y1="251.8" x2="872.5" y2="264.7" stroke="#2e7f62" stroke-width="1"/><rect x="871.0" y="259.0" width="3" height="3.3" fill="#2e7f62"/><line x1="877.5" y1="257.4" x2="877.5" y2="276.0" stroke="#c0585b" stroke-width="1"/><rect x="876.0" y="259.8" width="3" height="12.2" fill="#c0585b"/><line x1="881.5" y1="266.3" x2="881.5" y2="278.4" stroke="#2e7f62" stroke-width="1"/><rect x="880.0" y="271.2" width="3" height="2.4" fill="#2e7f62"/><line x1="886.5" y1="246.0" x2="886.5" y2="277.6" stroke="#2e7f62" stroke-width="1"/><rect x="885.0" y="247.7" width="3" height="25.1" fill="#2e7f62"/><line x1="890.5" y1="241.2" x2="890.5" y2="262.3" stroke="#2e7f62" stroke-width="1"/><rect x="889.0" y="243.7" width="3" height="3.2" fill="#2e7f62"/><line x1="895.5" y1="234.0" x2="895.5" y2="248.5" stroke="#c0585b" stroke-width="1"/><rect x="894.0" y="242.9" width="3" height="2.4" fill="#c0585b"/><line x1="900.5" y1="239.6" x2="900.5" y2="249.3" stroke="#2e7f62" stroke-width="1"/><rect x="899.0" y="241.2" width="3" height="3.3" fill="#2e7f62"/><line x1="904.5" y1="234.0" x2="904.5" y2="244.5" stroke="#c0585b" stroke-width="1"/><rect x="903.0" y="241.2" width="3" height="1.7" fill="#c0585b"/><line x1="909.5" y1="221.8" x2="909.5" y2="245.3" stroke="#2e7f62" stroke-width="1"/><rect x="908.0" y="230.7" width="3" height="12.2" fill="#2e7f62"/><line x1="914.5" y1="221.0" x2="914.5" y2="234.8" stroke="#2e7f62" stroke-width="1"/><rect x="913.0" y="225.0" width="3" height="5.7" fill="#2e7f62"/><line x1="918.5" y1="213.7" x2="918.5" y2="226.7" stroke="#c0585b" stroke-width="1"/><rect x="917.0" y="222.0" width="3" height="2.0" fill="#c0585b"/><line x1="923.5" y1="224.3" x2="923.5" y2="239.6" stroke="#c0585b" stroke-width="1"/><rect x="922.0" y="225.0" width="3" height="2.5" fill="#c0585b"/><line x1="927.5" y1="220.2" x2="927.5" y2="234.8" stroke="#c0585b" stroke-width="1"/><rect x="926.0" y="229.1" width="3" height="3.2" fill="#c0585b"/><line x1="932.5" y1="232.0" x2="932.5" y2="244.3" stroke="#c0585b" stroke-width="1"/><rect x="931.0" y="233.5" width="3" height="2.5" fill="#c0585b"/><line x1="937.5" y1="225.8" x2="937.5" y2="238.1" stroke="#c0585b" stroke-width="1"/><rect x="936.0" y="230.0" width="3" height="1.5" fill="#c0585b"/><line x1="941.5" y1="225.2" x2="941.5" y2="244.3" stroke="#2e7f62" stroke-width="1"/><rect x="940.0" y="230.0" width="3" height="1.5" fill="#2e7f62"/><line x1="946.5" y1="228.9" x2="946.5" y2="241.2" stroke="#c0585b" stroke-width="1"/><rect x="945.0" y="233.8" width="3" height="3.1" fill="#c0585b"/><line x1="950.5" y1="213.5" x2="950.5" y2="240.0" stroke="#2e7f62" stroke-width="1"/><rect x="949.0" y="214.0" width="3" height="25.4" fill="#2e7f62"/><line x1="955.5" y1="204.2" x2="955.5" y2="215.3" stroke="#2e7f62" stroke-width="1"/><rect x="954.0" y="212.8" width="3" height="1.2" fill="#2e7f62"/><line x1="960.5" y1="200.5" x2="960.5" y2="223.3" stroke="#2e7f62" stroke-width="1"/><rect x="959.0" y="203.6" width="3" height="6.8" fill="#2e7f62"/><line x1="964.5" y1="201.1" x2="964.5" y2="213.5" stroke="#c0585b" stroke-width="1"/><rect x="963.0" y="203.6" width="3" height="4.3" fill="#c0585b"/><line x1="969.5" y1="207.9" x2="969.5" y2="227.7" stroke="#c0585b" stroke-width="1"/><rect x="968.0" y="209.1" width="3" height="4.9" fill="#c0585b"/><line x1="974.5" y1="212.8" x2="974.5" y2="225.2" stroke="#c0585b" stroke-width="1"/><rect x="973.0" y="214.0" width="3" height="2.5" fill="#c0585b"/><line x1="978.5" y1="209.8" x2="978.5" y2="222.1" stroke="#2e7f62" stroke-width="1"/><rect x="977.0" y="212.8" width="3" height="3.2" fill="#2e7f62"/><line x1="983.5" y1="203.0" x2="983.5" y2="216.5" stroke="#2e7f62" stroke-width="1"/><rect x="982.0" y="204.8" width="3" height="5.6" fill="#2e7f62"/><line x1="987.5" y1="189.2" x2="987.5" y2="210.5" stroke="#2e7f62" stroke-width="1"/><rect x="986.0" y="192.2" width="3" height="16.8" fill="#2e7f62"/><line x1="992.5" y1="158.7" x2="992.5" y2="197.5" stroke="#2e7f62" stroke-width="1"/><rect x="991.0" y="169.4" width="3" height="22.8" fill="#2e7f62"/><line x1="997.5" y1="161.9" x2="997.5" y2="181.8" stroke="#c0585b" stroke-width="1"/><rect x="996.0" y="164.5" width="3" height="1.5" fill="#c0585b"/><line x1="1001.5" y1="165.6" x2="1001.5" y2="177.7" stroke="#c0585b" stroke-width="1"/><rect x="1000.0" y="169.4" width="3" height="6.1" fill="#c0585b"/><line x1="1006.5" y1="163.3" x2="1006.5" y2="177.7" stroke="#2e7f62" stroke-width="1"/><rect x="1005.0" y="170.1" width="3" height="5.4" fill="#2e7f62"/><line x1="1010.5" y1="158.0" x2="1010.5" y2="171.6" stroke="#2e7f62" stroke-width="1"/><rect x="1009.0" y="166.3" width="3" height="3.8" fill="#2e7f62"/><line x1="1015.5" y1="162.5" x2="1015.5" y2="181.5" stroke="#c0585b" stroke-width="1"/><rect x="1014.0" y="166.3" width="3" height="8.4" fill="#c0585b"/><line x1="1020.5" y1="165.6" x2="1020.5" y2="177.7" stroke="#2e7f62" stroke-width="1"/><rect x="1019.0" y="168.6" width="3" height="6.1" fill="#2e7f62"/><line x1="1024.5" y1="153.4" x2="1024.5" y2="172.4" stroke="#2e7f62" stroke-width="1"/><rect x="1023.0" y="162.5" width="3" height="6.1" fill="#2e7f62"/><line x1="1029.5" y1="152.4" x2="1029.5" y2="163.3" stroke="#cfd3d8" stroke-width="1"/><rect x="1028.0" y="158.5" width="3" height="2.5" fill="#cfd3d8"/><line x1="227" y1="13.2" x2="1079.6" y2="195.2" stroke="#fbe7c6" stroke-width="5" stroke-dasharray="6.5 3.487" stroke-dashoffset="2.1" opacity="0.8"/><line x1="227" y1="13.2" x2="1079.6" y2="195.2" stroke="#da9c52" stroke-width="2" stroke-dasharray="5.5 4.487" stroke-dashoffset="1.6"/><line x1="489.7" y1="157.7" x2="1071" y2="140.9" stroke="#c81ccb" stroke-width="2.3"/><line x1="489.7" y1="157.7" x2="489.7" y2="160" stroke="#c21cc9" stroke-width="1"/><rect x="-2.0" y="457.0" width="3" height="3.1" fill="#dd1111"/><rect x="3.0" y="457.0" width="3" height="2.9" fill="#dd1111"/><rect x="8.0" y="457.0" width="3" height="3.5" fill="#dd1111"/><rect x="12.0" y="457.0" width="3" height="3.6" fill="#dd1111"/><rect x="17.0" y="457.0" width="3" height="1.3" fill="#dd1111"/><rect x="21.0" y="454.7" width="3" height="2.3" fill="#22dd22"/><rect x="26.0" y="452.9" width="3" height="4.1" fill="#22dd22"/><rect x="31.0" y="450.5" width="3" height="6.5" fill="#22dd22"/><rect x="35.0" y="448.9" width="3" height="8.1" fill="#22dd22"/><rect x="40.0" y="448.2" width="3" height="8.8" fill="#22dd22"/><rect x="45.0" y="447.5" width="3" height="9.5" fill="#22dd22"/><rect x="49.0" y="447.4" width="3" height="9.6" fill="#22dd22"/><rect x="54.0" y="449.1" width="3" height="7.9" fill="#22dd22"/><rect x="58.0" y="450.1" width="3" height="6.9" fill="#22dd22"/><rect x="63.0" y="452.0" width="3" height="5.0" fill="#22dd22"/><rect x="68.0" y="453.6" width="3" height="3.4" fill="#22dd22"/><rect x="72.0" y="454.5" width="3" height="2.5" fill="#22dd22"/><rect x="77.0" y="455.4" width="3" height="1.6" fill="#22dd22"/><rect x="81.0" y="456.0" width="3" height="1.0" fill="#22dd22"/><rect x="86.0" y="457.0" width="3" height="0.8" fill="#dd1111"/><rect x="91.0" y="457.0" width="3" height="0.8" fill="#dd1111"/><rect x="95.0" y="457.0" width="3" height="1.3" fill="#dd1111"/><rect x="100.0" y="457.0" width="3" height="1.4" fill="#dd1111"/><rect x="105.0" y="457.0" width="3" height="1.9" fill="#dd1111"/><rect x="109.0" y="457.0" width="3" height="2.3" fill="#dd1111"/><rect x="114.0" y="457.0" width="3" height="3.0" fill="#dd1111"/><rect x="118.0" y="457.0" width="3" height="3.0" fill="#dd1111"/><rect x="123.0" y="457.0" width="3" height="3.1" fill="#dd1111"/><rect x="128.0" y="457.0" width="3" height="3.3" fill="#dd1111"/><rect x="132.0" y="457.0" width="3" height="3.5" fill="#dd1111"/><rect x="137.0" y="457.0" width="3" height="3.1" fill="#dd1111"/><rect x="141.0" y="457.0" width="3" height="2.6" fill="#dd1111"/><rect x="146.0" y="457.0" width="3" height="2.6" fill="#dd1111"/><rect x="151.0" y="457.0" width="3" height="2.7" fill="#dd1111"/><rect x="155.0" y="457.0" width="3" height="2.5" fill="#dd1111"/><rect x="160.0" y="457.0" width="3" height="3.1" fill="#dd1111"/><rect x="165.0" y="457.0" width="3" height="2.6" fill="#dd1111"/><rect x="169.0" y="457.0" width="3" height="2.4" fill="#dd1111"/><rect x="174.0" y="457.0" width="3" height="1.5" fill="#dd1111"/><rect x="178.0" y="457.0" width="3" height="0.9" fill="#dd1111"/><rect x="183.0" y="457.0" width="3" height="0.8" fill="#dd1111"/><rect x="188.0" y="457.0" width="3" height="0.8" fill="#dd1111"/><rect x="192.0" y="457.0" width="3" height="0.8" fill="#dd1111"/><rect x="197.0" y="456.2" width="3" height="0.8" fill="#22dd22"/><rect x="202.0" y="455.9" width="3" height="1.1" fill="#22dd22"/><rect x="206.0" y="455.9" width="3" height="1.1" fill="#22dd22"/><rect x="211.0" y="455.8" width="3" height="1.2" fill="#22dd22"/><rect x="215.0" y="455.9" width="3" height="1.1" fill="#22dd22"/><rect x="220.0" y="455.8" width="3" height="1.2" fill="#22dd22"/><rect x="225.0" y="453.1" width="3" height="3.9" fill="#22dd22"/><rect x="229.0" y="452.7" width="3" height="4.3" fill="#22dd22"/><rect x="234.0" y="453.2" width="3" height="3.8" fill="#22dd22"/><rect x="238.0" y="455.0" width="3" height="2.0" fill="#22dd22"/><rect x="243.0" y="456.2" width="3" height="0.8" fill="#22dd22"/><rect x="248.0" y="457.0" width="3" height="1.6" fill="#dd1111"/><rect x="252.0" y="457.0" width="3" height="2.9" fill="#dd1111"/><rect x="257.0" y="457.0" width="3" height="4.1" fill="#dd1111"/><rect x="262.0" y="457.0" width="3" height="4.8" fill="#dd1111"/><rect x="266.0" y="457.0" width="3" height="4.7" fill="#dd1111"/><rect x="271.0" y="457.0" width="3" height="4.2" fill="#dd1111"/><rect x="275.0" y="457.0" width="3" height="3.2" fill="#dd1111"/><rect x="280.0" y="457.0" width="3" height="2.7" fill="#dd1111"/><rect x="285.0" y="457.0" width="3" height="1.5" fill="#dd1111"/><rect x="289.0" y="457.0" width="3" height="0.8" fill="#dd1111"/><rect x="294.0" y="457.0" width="3" height="1.2" fill="#dd1111"/><rect x="298.0" y="457.0" width="3" height="2.4" fill="#dd1111"/><rect x="303.0" y="457.0" width="3" height="2.1" fill="#dd1111"/><rect x="308.0" y="457.0" width="3" height="2.7" fill="#dd1111"/><rect x="312.0" y="457.0" width="3" height="2.0" fill="#dd1111"/><rect x="317.0" y="457.0" width="3" height="1.4" fill="#dd1111"/><rect x="322.0" y="457.0" width="3" height="1.0" fill="#dd1111"/><rect x="326.0" y="457.0" width="3" height="0.9" fill="#dd1111"/><rect x="331.0" y="457.0" width="3" height="0.8" fill="#dd1111"/><rect x="335.0" y="457.0" width="3" height="0.8" fill="#dd1111"/><rect x="340.0" y="456.2" width="3" height="0.8" fill="#22dd22"/><rect x="345.0" y="456.2" width="3" height="0.8" fill="#22dd22"/><rect x="349.0" y="456.2" width="3" height="0.8" fill="#22dd22"/><rect x="354.0" y="456.2" width="3" height="0.8" fill="#22dd22"/><rect x="358.0" y="456.2" width="3" height="0.8" fill="#22dd22"/><rect x="363.0" y="456.2" width="3" height="0.8" fill="#22dd22"/><rect x="368.0" y="457.0" width="3" height="0.8" fill="#dd1111"/><rect x="372.0" y="457.0" width="3" height="1.0" fill="#dd1111"/><rect x="377.0" y="457.0" width="3" height="1.7" fill="#dd1111"/><rect x="382.0" y="457.0" width="3" height="2.1" fill="#dd1111"/><rect x="386.0" y="457.0" width="3" height="2.0" fill="#dd1111"/><rect x="391.0" y="457.0" width="3" height="1.4" fill="#dd1111"/><rect x="395.0" y="457.0" width="3" height="2.3" fill="#dd1111"/><rect x="400.0" y="457.0" width="3" height="1.6" fill="#dd1111"/><rect x="405.0" y="457.0" width="3" height="1.1" fill="#dd1111"/><rect x="409.0" y="457.0" width="3" height="1.1" fill="#dd1111"/><rect x="414.0" y="457.0" width="3" height="1.6" fill="#dd1111"/><rect x="419.0" y="457.0" width="3" height="1.6" fill="#dd1111"/><rect x="423.0" y="457.0" width="3" height="1.1" fill="#dd1111"/><rect x="428.0" y="457.0" width="3" height="0.8" fill="#dd1111"/><rect x="432.0" y="456.2" width="3" height="0.8" fill="#22dd22"/><rect x="437.0" y="456.2" width="3" height="0.8" fill="#22dd22"/><rect x="442.0" y="456.2" width="3" height="0.8" fill="#22dd22"/><rect x="446.0" y="456.0" width="3" height="1.0" fill="#22dd22"/><rect x="451.0" y="455.5" width="3" height="1.5" fill="#22dd22"/><rect x="455.0" y="454.9" width="3" height="2.1" fill="#22dd22"/><rect x="460.0" y="454.4" width="3" height="2.6" fill="#22dd22"/><rect x="465.0" y="455.1" width="3" height="1.9" fill="#22dd22"/><rect x="469.0" y="455.6" width="3" height="1.4" fill="#22dd22"/><rect x="474.0" y="456.2" width="3" height="0.8" fill="#22dd22"/><rect x="479.0" y="457.0" width="3" height="1.0" fill="#dd1111"/><rect x="483.0" y="457.0" width="3" height="3.9" fill="#dd1111"/><rect x="488.0" y="457.0" width="3" height="5.5" fill="#dd1111"/><rect x="492.0" y="457.0" width="3" height="7.0" fill="#dd1111"/><rect x="497.0" y="457.0" width="3" height="6.7" fill="#dd1111"/><rect x="502.0" y="457.0" width="3" height="6.8" fill="#dd1111"/><rect x="506.0" y="457.0" width="3" height="6.7" fill="#dd1111"/><rect x="511.0" y="457.0" width="3" height="8.0" fill="#dd1111"/><rect x="515.0" y="457.0" width="3" height="7.7" fill="#dd1111"/><rect x="520.0" y="457.0" width="3" height="8.1" fill="#dd1111"/><rect x="525.0" y="457.0" width="3" height="9.6" fill="#dd1111"/><rect x="529.0" y="457.0" width="3" height="9.2" fill="#dd1111"/><rect x="534.0" y="457.0" width="3" height="9.8" fill="#dd1111"/><rect x="539.0" y="457.0" width="3" height="9.5" fill="#dd1111"/><rect x="543.0" y="457.0" width="3" height="11.9" fill="#dd1111"/><rect x="548.0" y="457.0" width="3" height="11.4" fill="#dd1111"/><rect x="552.0" y="457.0" width="3" height="9.0" fill="#dd1111"/><rect x="557.0" y="457.0" width="3" height="7.1" fill="#dd1111"/><rect x="562.0" y="457.0" width="3" height="3.6" fill="#dd1111"/><rect x="566.0" y="456.2" width="3" height="0.8" fill="#22dd22"/><rect x="571.0" y="453.2" width="3" height="3.8" fill="#22dd22"/><rect x="575.0" y="450.3" width="3" height="6.7" fill="#22dd22"/><rect x="580.0" y="448.9" width="3" height="8.1" fill="#22dd22"/><rect x="585.0" y="448.4" width="3" height="8.6" fill="#22dd22"/><rect x="589.0" y="449.0" width="3" height="8.0" fill="#22dd22"/><rect x="594.0" y="448.7" width="3" height="8.3" fill="#22dd22"/><rect x="599.0" y="449.2" width="3" height="7.8" fill="#22dd22"/><rect x="603.0" y="449.5" width="3" height="7.5" fill="#22dd22"/><rect x="608.0" y="449.4" width="3" height="7.6" fill="#22dd22"/><rect x="612.0" y="449.2" width="3" height="7.8" fill="#22dd22"/><rect x="617.0" y="449.1" width="3" height="7.9" fill="#22dd22"/><rect x="622.0" y="449.4" width="3" height="7.6" fill="#22dd22"/><rect x="626.0" y="450.0" width="3" height="7.0" fill="#22dd22"/><rect x="631.0" y="450.3" width="3" height="6.7" fill="#22dd22"/><rect x="636.0" y="451.3" width="3" height="5.7" fill="#22dd22"/><rect x="640.0" y="452.3" width="3" height="4.7" fill="#22dd22"/><rect x="645.0" y="453.2" width="3" height="3.8" fill="#22dd22"/><rect x="649.0" y="454.2" width="3" height="2.8" fill="#22dd22"/><rect x="654.0" y="456.0" width="3" height="1.0" fill="#22dd22"/><rect x="659.0" y="456.2" width="3" height="0.8" fill="#22dd22"/><rect x="663.0" y="457.0" width="3" height="0.8" fill="#dd1111"/><rect x="668.0" y="457.0" width="3" height="0.8" fill="#dd1111"/><rect x="672.0" y="457.0" width="3" height="0.8" fill="#dd1111"/><rect x="677.0" y="457.0" width="3" height="0.8" fill="#dd1111"/><rect x="682.0" y="457.0" width="3" height="0.8" fill="#dd1111"/><rect x="686.0" y="456.0" width="3" height="1.0" fill="#22dd22"/><rect x="691.0" y="456.0" width="3" height="1.0" fill="#22dd22"/><rect x="696.0" y="456.2" width="3" height="0.8" fill="#22dd22"/><rect x="700.0" y="457.0" width="3" height="0.8" fill="#dd1111"/><rect x="705.0" y="457.0" width="3" height="1.4" fill="#dd1111"/><rect x="709.0" y="457.0" width="3" height="2.0" fill="#dd1111"/><rect x="714.0" y="457.0" width="3" height="1.4" fill="#dd1111"/><rect x="719.0" y="457.0" width="3" height="0.8" fill="#dd1111"/><rect x="723.0" y="457.0" width="3" height="1.2" fill="#dd1111"/><rect x="728.0" y="457.0" width="3" height="1.7" fill="#dd1111"/><rect x="732.0" y="457.0" width="3" height="1.7" fill="#dd1111"/><rect x="737.0" y="457.0" width="3" height="2.6" fill="#dd1111"/><rect x="742.0" y="457.0" width="3" height="2.1" fill="#dd1111"/><rect x="746.0" y="457.0" width="3" height="0.9" fill="#dd1111"/><rect x="751.0" y="457.0" width="3" height="0.8" fill="#dd1111"/><rect x="756.0" y="456.2" width="3" height="0.8" fill="#22dd22"/><rect x="760.0" y="456.2" width="3" height="0.8" fill="#22dd22"/><rect x="765.0" y="456.2" width="3" height="0.8" fill="#22dd22"/><rect x="769.0" y="455.5" width="3" height="1.5" fill="#22dd22"/><rect x="774.0" y="455.3" width="3" height="1.7" fill="#22dd22"/><rect x="779.0" y="454.8" width="3" height="2.2" fill="#22dd22"/><rect x="783.0" y="454.1" width="3" height="2.9" fill="#22dd22"/><rect x="788.0" y="452.8" width="3" height="4.2" fill="#22dd22"/><rect x="792.0" y="450.9" width="3" height="6.1" fill="#22dd22"/><rect x="797.0" y="449.6" width="3" height="7.4" fill="#22dd22"/><rect x="802.0" y="448.8" width="3" height="8.2" fill="#22dd22"/><rect x="806.0" y="447.8" width="3" height="9.2" fill="#22dd22"/><rect x="811.0" y="448.2" width="3" height="8.8" fill="#22dd22"/><rect x="816.0" y="449.5" width="3" height="7.5" fill="#22dd22"/><rect x="820.0" y="451.3" width="3" height="5.7" fill="#22dd22"/><rect x="825.0" y="454.1" width="3" height="2.9" fill="#22dd22"/><rect x="829.0" y="455.2" width="3" height="1.8" fill="#22dd22"/><rect x="834.0" y="456.2" width="3" height="0.8" fill="#22dd22"/><rect x="839.0" y="457.0" width="3" height="0.8" fill="#dd1111"/><rect x="843.0" y="457.0" width="3" height="2.0" fill="#dd1111"/><rect x="848.0" y="457.0" width="3" height="3.7" fill="#dd1111"/><rect x="853.0" y="457.0" width="3" height="5.4" fill="#dd1111"/><rect x="857.0" y="457.0" width="3" height="5.3" fill="#dd1111"/><rect x="862.0" y="457.0" width="3" height="4.9" fill="#dd1111"/><rect x="866.0" y="457.0" width="3" height="4.8" fill="#dd1111"/><rect x="871.0" y="457.0" width="3" height="4.3" fill="#dd1111"/><rect x="876.0" y="457.0" width="3" height="4.4" fill="#dd1111"/><rect x="880.0" y="457.0" width="3" height="4.2" fill="#dd1111"/><rect x="885.0" y="457.0" width="3" height="2.9" fill="#dd1111"/><rect x="889.0" y="457.0" width="3" height="1.7" fill="#dd1111"/><rect x="894.0" y="457.0" width="3" height="0.9" fill="#dd1111"/><rect x="899.0" y="457.0" width="3" height="0.8" fill="#dd1111"/><rect x="903.0" y="456.2" width="3" height="0.8" fill="#22dd22"/><rect x="908.0" y="456.1" width="3" height="0.9" fill="#22dd22"/><rect x="913.0" y="455.4" width="3" height="1.6" fill="#22dd22"/><rect x="917.0" y="455.0" width="3" height="2.0" fill="#22dd22"/><rect x="922.0" y="455.0" width="3" height="2.0" fill="#22dd22"/><rect x="926.0" y="455.3" width="3" height="1.7" fill="#22dd22"/><rect x="931.0" y="455.8" width="3" height="1.2" fill="#22dd22"/><rect x="936.0" y="456.0" width="3" height="1.0" fill="#22dd22"/><rect x="940.0" y="456.1" width="3" height="0.9" fill="#22dd22"/><rect x="945.0" y="456.2" width="3" height="0.8" fill="#22dd22"/><rect x="949.0" y="455.8" width="3" height="1.2" fill="#22dd22"/><rect x="954.0" y="455.5" width="3" height="1.5" fill="#22dd22"/><rect x="959.0" y="454.9" width="3" height="2.1" fill="#22dd22"/><rect x="963.0" y="454.9" width="3" height="2.1" fill="#22dd22"/><rect x="968.0" y="455.3" width="3" height="1.7" fill="#22dd22"/><rect x="973.0" y="455.8" width="3" height="1.2" fill="#22dd22"/><rect x="977.0" y="456.0" width="3" height="1.0" fill="#22dd22"/><rect x="982.0" y="455.9" width="3" height="1.1" fill="#22dd22"/><rect x="986.0" y="455.5" width="3" height="1.5" fill="#22dd22"/><rect x="991.0" y="454.3" width="3" height="2.7" fill="#22dd22"/><rect x="996.0" y="453.6" width="3" height="3.4" fill="#22dd22"/><rect x="1000.0" y="453.9" width="3" height="3.1" fill="#22dd22"/><rect x="1005.0" y="454.0" width="3" height="3.0" fill="#22dd22"/><rect x="1009.0" y="454.2" width="3" height="2.8" fill="#22dd22"/><rect x="1014.0" y="454.9" width="3" height="2.1" fill="#22dd22"/><rect x="1019.0" y="455.2" width="3" height="1.8" fill="#22dd22"/><rect x="1023.0" y="455.4" width="3" height="1.6" fill="#22dd22"/><rect x="1028.0" y="455.6" width="3" height="1.4" fill="#22dd22"/><path d="M-0.1,452.3 L4.5,453.0 L9.1,453.9 L13.7,454.8 L18.3,455.1 L22.9,454.5 L27.6,453.5 L32.2,451.9 L36.8,449.9 L41.4,447.7 L46.0,445.3 L50.6,442.9 L55.3,440.9 L59.9,439.2 L64.5,437.9 L69.1,437.1 L73.7,436.5 L78.3,436.1 L83.0,435.8 L87.6,435.9 L92.2,436.1 L96.8,436.4 L101.4,436.7 L106.1,437.2 L110.7,437.8 L115.3,438.5 L119.9,439.3 L124.5,440.1 L129.1,440.9 L133.8,441.8 L138.4,442.5 L143.0,443.2 L147.6,443.8 L152.2,444.5 L156.8,445.1 L161.5,445.9 L166.1,446.5 L170.7,447.1 L175.3,447.5 L179.9,447.7 L184.5,447.8 L189.2,447.9 L193.8,448.1 L198.4,448.0 L203.0,447.7 L207.6,447.4 L212.2,447.1 L216.9,446.9 L221.5,446.6 L226.1,445.6 L230.7,444.5 L235.3,443.6 L239.9,443.1 L244.6,443.0 L249.2,443.4 L253.8,444.1 L258.4,445.1 L263.0,446.3 L267.6,447.5 L272.3,448.5 L276.9,449.3 L281.5,450.0 L286.1,450.4 L290.7,450.6 L295.3,450.9 L300.0,451.5 L304.6,452.0 L309.2,452.7 L313.8,453.1 L318.4,453.5 L323.1,453.7 L327.7,454.0 L332.3,454.1 L336.9,454.2 L341.5,454.1 L346.1,454.0 L350.8,454.0 L355.4,454.0 L360.0,453.8 L364.6,453.6 L369.2,453.7 L373.8,453.9 L378.5,454.3 L383.1,454.9 L387.7,455.4 L392.3,455.7 L396.9,456.3 L401.5,456.7 L406.2,457.0 L410.8,457.3 L415.4,457.7 L420.0,458.1 L424.6,458.3 L429.2,458.5 L433.9,458.4 L438.5,458.2 L443.1,458.0 L447.7,457.8 L452.3,457.4 L456.9,456.9 L461.6,456.2 L466.2,455.8 L470.8,455.4 L475.4,455.3 L480.0,455.6 L484.6,456.5 L489.3,457.9 L493.9,459.6 L498.5,461.3 L503.1,463.0 L507.7,464.7 L512.3,466.7 L517.0,468.6 L521.6,470.6 L526.2,473.0 L530.8,475.3 L535.4,477.8 L540.0,480.1 L544.7,483.1 L549.3,486.0 L553.9,488.2 L558.5,490.0 L563.1,490.9 L567.8,490.9 L572.4,490.0 L577.0,488.3 L581.6,486.3 L586.2,484.1 L590.8,482.1 L595.5,480.0 L600.1,478.1 L604.7,476.2 L609.3,474.3 L613.9,472.4 L618.5,470.4 L623.2,468.5 L627.8,466.7 L632.4,465.1 L637.0,463.6 L641.6,462.5 L646.2,461.5 L650.9,460.8 L655.5,460.5 L660.1,460.5 L664.7,460.6 L669.3,460.7 L673.9,460.8 L678.6,460.9 L683.2,461.0 L687.8,460.8 L692.4,460.5 L697.0,460.4 L701.6,460.4 L706.3,460.8 L710.9,461.3 L715.5,461.6 L720.1,461.8 L724.7,462.1 L729.3,462.5 L734.0,463.0 L738.6,463.6 L743.2,464.1 L747.8,464.4 L752.4,464.4 L757.0,464.4 L761.7,464.4 L766.3,464.3 L770.9,463.9 L775.5,463.5 L780.1,462.9 L784.8,462.2 L789.4,461.2 L794.0,459.7 L798.6,457.8 L803.2,455.7 L807.8,453.4 L812.5,451.2 L817.1,449.4 L821.7,447.9 L826.3,447.2 L830.9,446.8 L835.5,446.7 L840.2,446.9 L844.8,447.4 L849.4,448.3 L854.0,449.7 L858.6,451.0 L863.2,452.2 L867.9,453.4 L872.5,454.5 L877.1,455.6 L881.7,456.7 L886.3,457.4 L890.9,457.8 L895.6,458.0 L900.2,458.1 L904.8,458.0 L909.4,457.8 L914.0,457.4 L918.6,456.9 L923.3,456.4 L927.9,456.0 L932.5,455.7 L937.1,455.4 L941.7,455.2 L946.3,455.1 L951.0,454.8 L955.6,454.4 L960.2,453.9 L964.8,453.3 L969.4,452.9 L974.0,452.6 L978.7,452.4 L983.3,452.1 L987.9,451.7 L992.5,451.1 L997.1,450.2 L1001.7,449.4 L1006.4,448.7 L1011.0,448.0 L1015.6,447.4 L1020.2,447.0 L1024.8,446.6 L1029.5,446.3" fill="none" stroke="#dc9a5c" stroke-width="1.4"/><path d="M-0.1,455.4 L4.5,455.9 L9.1,457.4 L13.7,458.4 L18.3,456.4 L22.9,452.3 L27.6,449.4 L32.2,445.4 L36.8,441.8 L41.4,438.9 L46.0,435.8 L50.6,433.3 L55.3,433.0 L59.9,432.3 L64.5,432.9 L69.1,433.7 L73.7,434.0 L78.3,434.5 L83.0,434.9 L87.6,436.0 L92.2,436.8 L96.8,437.7 L101.4,438.1 L106.1,439.1 L110.7,440.1 L115.3,441.5 L119.9,442.3 L124.5,443.2 L129.1,444.2 L133.8,445.2 L138.4,445.6 L143.0,445.8 L147.6,446.5 L152.2,447.2 L156.8,447.7 L161.5,449.0 L166.1,449.1 L170.7,449.5 L175.3,449.0 L179.9,448.6 L184.5,448.2 L189.2,448.5 L193.8,448.7 L198.4,447.7 L203.0,446.6 L207.6,446.3 L212.2,445.9 L216.9,445.8 L221.5,445.4 L226.1,441.7 L230.7,440.3 L235.3,439.8 L239.9,441.1 L244.6,442.6 L249.2,445.0 L253.8,446.9 L258.4,449.2 L263.0,451.1 L267.6,452.2 L272.3,452.7 L276.9,452.5 L281.5,452.7 L286.1,451.9 L290.7,451.3 L295.3,452.0 L300.0,453.8 L304.6,454.1 L309.2,455.4 L313.8,455.1 L318.4,454.8 L323.1,454.8 L327.7,454.9 L332.3,454.8 L336.9,454.6 L341.5,453.7 L346.1,453.7 L350.8,453.9 L355.4,453.9 L360.0,453.2 L364.6,452.9 L369.2,453.7 L373.8,454.9 L378.5,456.0 L383.1,457.0 L387.7,457.4 L392.3,457.1 L396.9,458.6 L401.5,458.3 L406.2,458.1 L410.8,458.4 L415.4,459.3 L420.0,459.6 L424.6,459.4 L429.2,459.1 L433.9,458.2 L438.5,457.5 L443.1,457.2 L447.7,456.8 L452.3,455.9 L456.9,454.8 L461.6,453.6 L466.2,453.9 L470.8,454.0 L475.4,454.9 L480.0,456.6 L484.6,460.4 L489.3,463.4 L493.9,466.6 L498.5,468.0 L503.1,469.8 L507.7,471.4 L512.3,474.6 L517.0,476.3 L521.6,478.7 L526.2,482.6 L530.8,484.5 L535.4,487.5 L540.0,489.6 L544.7,495.1 L549.3,497.4 L553.9,497.2 L558.5,497.1 L563.1,494.6 L567.8,490.9 L572.4,486.2 L577.0,481.6 L581.6,478.2 L586.2,475.5 L590.8,474.1 L595.5,471.7 L600.1,470.3 L604.7,468.7 L609.3,466.8 L613.9,464.6 L618.5,462.5 L623.2,460.8 L627.8,459.7 L632.4,458.4 L637.0,458.0 L641.6,457.8 L646.2,457.7 L650.9,458.0 L655.5,459.5 L660.1,460.3 L664.7,460.9 L669.3,461.2 L673.9,461.1 L678.6,461.4 L683.2,461.5 L687.8,459.7 L692.4,459.5 L697.0,460.0 L701.6,460.6 L706.3,462.2 L710.9,463.3 L715.5,463.1 L720.1,462.5 L724.7,463.3 L729.3,464.2 L734.0,464.6 L738.6,466.2 L743.2,466.2 L747.8,465.3 L752.4,464.7 L757.0,464.3 L761.7,464.3 L766.3,464.0 L770.9,462.4 L775.5,461.8 L780.1,460.7 L784.8,459.3 L789.4,457.0 L794.0,453.5 L798.6,450.3 L803.2,447.5 L807.8,444.2 L812.5,442.5 L817.1,441.9 L821.7,442.2 L826.3,444.3 L830.9,445.0 L835.5,446.2 L840.2,447.7 L844.8,449.4 L849.4,452.0 L854.0,455.1 L858.6,456.3 L863.2,457.2 L867.9,458.2 L872.5,458.8 L877.1,460.0 L881.7,460.9 L886.3,460.2 L890.9,459.5 L895.6,458.9 L900.2,458.3 L904.8,457.9 L909.4,456.9 L914.0,455.8 L918.6,454.9 L923.3,454.4 L927.9,454.3 L932.5,454.5 L937.1,454.4 L941.7,454.3 L946.3,454.6 L951.0,453.6 L955.6,452.8 L960.2,451.8 L964.8,451.3 L969.4,451.2 L974.0,451.4 L978.7,451.4 L983.3,451.1 L987.9,450.2 L992.5,448.4 L997.1,446.9 L1001.7,446.3 L1006.4,445.7 L1011.0,445.2 L1015.6,445.3 L1020.2,445.2 L1024.8,445.0 L1029.5,444.9" fill="none" stroke="#2b3888" stroke-width="1.4"/><rect x="0" y="423" width="1131" height="8" fill="#ffffff"/><line x1="555" y1="425.5" x2="575" y2="425.5" stroke="#555" stroke-width="1"/><line x1="555" y1="427.5" x2="575" y2="427.5" stroke="#555" stroke-width="1"/><line x1="555" y1="429.5" x2="575" y2="429.5" stroke="#555" stroke-width="1"/><path d="M1131,161.5 L1134,158 L1134,154.5 L1189,154.5 L1189,169.5 L1134,169.5 L1134,165 Z" fill="#2b4a78"/><text x="1161.5" y="166.3" class="tag" text-anchor="middle">139.0250</text><rect x="5" y="5" width="76" height="20.5" fill="#000" fill-opacity="0.62"/><rect x="5" y="5" width="3" height="20.5" fill="#35705f"/><rect x="8" y="5" width="4" height="20.5" fill="#7a4a5a" fill-opacity="0.35"/><text x="16" y="20.2" class="lg">GBP/JPY</text><rect x="5" y="32.3" width="89.7" height="20.4" fill="#000" fill-opacity="0.62"/><rect x="5" y="32.3" width="2.5" height="20.4" fill="#3c7a26"/><text x="16" y="46.3" class="lg">SMA (200,0)</text><rect x="5" y="436" width="108.7" height="20.8" fill="#000" fill-opacity="0.62"/><rect x="5" y="436" width="2.5" height="20.8" fill="#1f2fa8"/><text x="16" y="449.8" class="lg">MACD (12,26,9)</text></svg>
</body></html>
